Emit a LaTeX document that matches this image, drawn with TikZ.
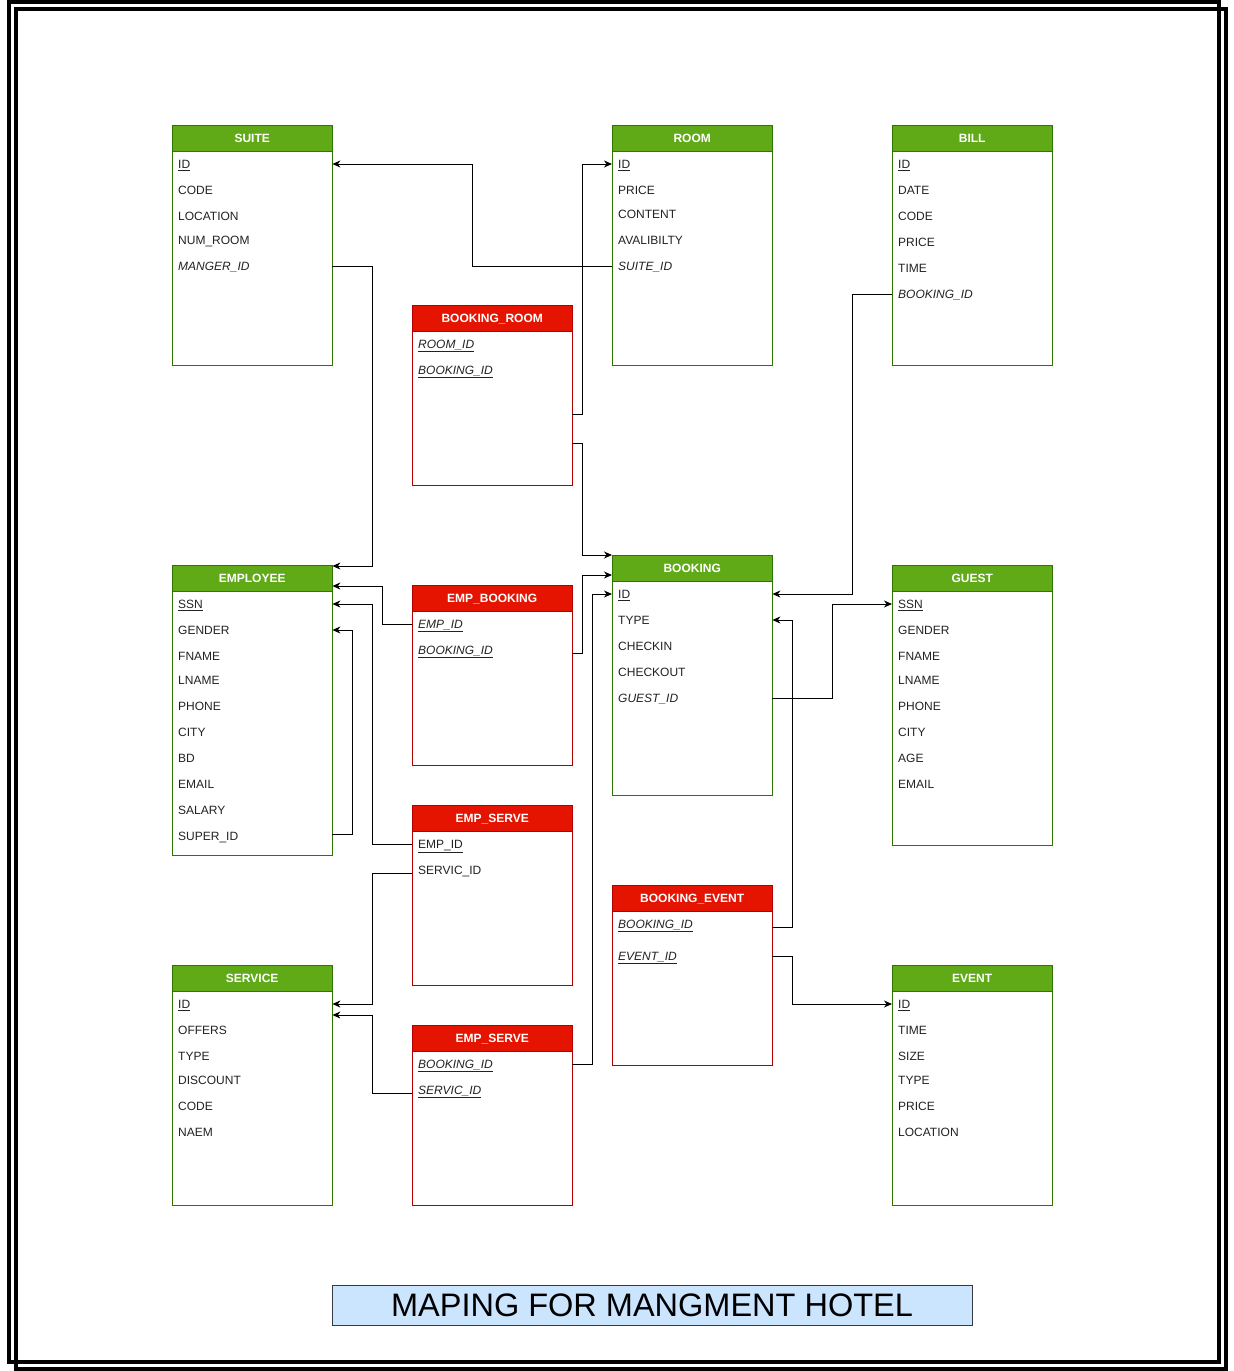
\documentclass[tikz,border=0pt]{standalone}
\usepackage{fontspec}
\setmainfont{Liberation Sans}
\usetikzlibrary{arrows.meta}

\definecolor{greenhead}{HTML}{60A917}
\definecolor{greenline}{HTML}{2D7600}
\definecolor{redhead}{HTML}{E51400}
\definecolor{redline}{HTML}{B20000}
\definecolor{titlefill}{HTML}{CCE5FF}
\definecolor{titleline}{HTML}{36393D}
\definecolor{rowtext}{HTML}{222222}

\begin{document}
\begin{tikzpicture}[x=1pt, y=-1pt,
  tbl/.style = {anchor=north west, minimum width=160pt, inner sep=0pt, fill=white},
  ent/.style = {tbl, draw=greenline},
  rel/.style = {tbl, draw=redline},
  enthead/.style = {ent, fill=greenhead, text=white, minimum height=26pt, text height=8.6pt, text depth=0pt, font=\fontsize{12}{14}\selectfont\bfseries},
  relhead/.style = {rel, fill=redhead, text=white, minimum height=26pt, text height=8.6pt, text depth=0pt, font=\fontsize{12}{14}\selectfont\bfseries},
  row/.style = {anchor=west, text width=148pt, inner xsep=6pt, inner ysep=2pt, text height=8.6pt, text depth=0pt, align=left, text=rowtext, font=\fontsize{12}{14}\selectfont},
  link/.style = {-{Stealth[length=8pt,width=7pt,inset=2.5pt]}, line width=1pt},
  frame/.style = {line width=3.5pt}]
\useasboundingbox (0,0) rectangle (1234,1371);
\draw[frame] (9,2) rectangle (1219,1362);
\draw[frame] (16,9) rectangle (1226,1369);

% SUITE
\node[ent, minimum height=240pt] (suite) at (172,125) {};
\node[enthead] (suite-head) at (172,125) {SUITE};
\node[row] (suite-id) at (172,164) {\underline{ID}};
\node[row] (suite-code) at (172,190) {CODE};
\node[row] (suite-loc) at (172,216) {LOCATION};
\node[row] (suite-num) at (172,240) {NUM\_ROOM};
\node[row] (suite-manger) at (172,266) {\textit{MANGER\_ID}};

% ROOM
\node[ent, minimum height=240pt] (room) at (612,125) {};
\node[enthead] (room-head) at (612,125) {ROOM};
\node[row] (room-id) at (612,164) {\underline{ID}};
\node[row] (room-price) at (612,190) {PRICE};
\node[row] (room-content) at (612,214) {CONTENT};
\node[row] (room-aval) at (612,240) {AVALIBILTY};
\node[row] (room-suite) at (612,266) {\textit{SUITE\_ID}};

% BILL
\node[ent, minimum height=240pt] (bill) at (892,125) {};
\node[enthead] (bill-head) at (892,125) {BILL};
\node[row] (bill-id) at (892,164) {\underline{ID}};
\node[row] (bill-date) at (892,190) {DATE};
\node[row] (bill-code) at (892,216) {CODE};
\node[row] (bill-price) at (892,242) {PRICE};
\node[row] (bill-time) at (892,268) {TIME};
\node[row] (bill-booking) at (892,294) {\textit{BOOKING\_ID}};

% BOOKING_ROOM
\node[rel, minimum height=180pt] (bkroom) at (412,305) {};
\node[relhead] (bkroom-head) at (412,305) {BOOKING\_ROOM};
\node[row] (bkroom-room) at (412,344) {\textit{\underline{ROOM\_ID}}};
\node[row] (bkroom-booking) at (412,370) {\textit{\underline{BOOKING\_ID}}};

% EMPLOYEE
\node[ent, minimum height=290pt] (emp) at (172,565) {};
\node[enthead] (emp-head) at (172,565) {EMPLOYEE};
\node[row] (emp-ssn) at (172,604) {\underline{SSN}};
\node[row] (emp-gender) at (172,630) {GENDER};
\node[row] (emp-fname) at (172,656) {FNAME};
\node[row] (emp-lname) at (172,680) {LNAME};
\node[row] (emp-phone) at (172,706) {PHONE};
\node[row] (emp-city) at (172,732) {CITY};
\node[row] (emp-bd) at (172,758) {BD};
\node[row] (emp-email) at (172,784) {EMAIL};
\node[row] (emp-salary) at (172,810) {SALARY};
\node[row] (emp-super) at (172,836) {SUPER\_ID};

% EMP_BOOKING
\node[rel, minimum height=180pt] (empbk) at (412,585) {};
\node[relhead] (empbk-head) at (412,585) {EMP\_BOOKING};
\node[row] (empbk-emp) at (412,624) {\textit{\underline{EMP\_ID}}};
\node[row] (empbk-booking) at (412,650) {\textit{\underline{BOOKING\_ID}}};

% BOOKING
\node[ent, minimum height=240pt] (booking) at (612,555) {};
\node[enthead] (booking-head) at (612,555) {BOOKING};
\node[row] (bk-id) at (612,594) {\underline{ID}};
\node[row] (bk-type) at (612,620) {TYPE};
\node[row] (bk-checkin) at (612,646) {CHECKIN};
\node[row] (bk-checkout) at (612,672) {CHECKOUT};
\node[row] (bk-guest) at (612,698) {\textit{GUEST\_ID}};

% GUEST
\node[ent, minimum height=280pt] (guest) at (892,565) {};
\node[enthead] (guest-head) at (892,565) {GUEST};
\node[row] (guest-ssn) at (892,604) {\underline{SSN}};
\node[row] (guest-gender) at (892,630) {GENDER};
\node[row] (guest-fname) at (892,656) {FNAME};
\node[row] (guest-lname) at (892,680) {LNAME};
\node[row] (guest-phone) at (892,706) {PHONE};
\node[row] (guest-city) at (892,732) {CITY};
\node[row] (guest-age) at (892,758) {AGE};
\node[row] (guest-email) at (892,784) {EMAIL};

% EMP_SERVE
\node[rel, minimum height=180pt] (empsrv) at (412,805) {};
\node[relhead] (empsrv-head) at (412,805) {EMP\_SERVE};
\node[row] (empsrv-emp) at (412,844) {\underline{EMP\_ID}};
\node[row] (empsrv-servic) at (412,870) {SERVIC\_ID};

% BOOKING_EVENT
\node[rel, minimum height=180pt] (bkev) at (612,885) {};
\node[relhead] (bkev-head) at (612,885) {BOOKING\_EVENT};
\node[row] (bkev-booking) at (612,924) {\textit{\underline{BOOKING\_ID}}};
\node[row] (bkev-event) at (612,956) {\textit{\underline{EVENT\_ID}}};

% SERVICE
\node[ent, minimum height=240pt] (service) at (172,965) {};
\node[enthead] (service-head) at (172,965) {SERVICE};
\node[row] (srv-id) at (172,1004) {\underline{ID}};
\node[row] (srv-offers) at (172,1030) {OFFERS};
\node[row] (srv-type) at (172,1056) {TYPE};
\node[row] (srv-discount) at (172,1080) {DISCOUNT};
\node[row] (srv-code) at (172,1106) {CODE};
\node[row] (srv-naem) at (172,1132) {NAEM};

% EMP_SERVE (second)
\node[rel, minimum height=180pt] (empsrv2) at (412,1025) {};
\node[relhead] (empsrv2-head) at (412,1025) {EMP\_SERVE};
\node[row] (empsrv2-booking) at (412,1064) {\textit{\underline{BOOKING\_ID}}};
\node[row] (empsrv2-servic) at (412,1090) {\textit{\underline{SERVIC\_ID}}};

% EVENT
\node[ent, minimum height=240pt] (event) at (892,965) {};
\node[enthead] (event-head) at (892,965) {EVENT};
\node[row] (event-id) at (892,1004) {\underline{ID}};
\node[row] (event-time) at (892,1030) {TIME};
\node[row] (event-size) at (892,1056) {SIZE};
\node[row] (event-type) at (892,1080) {TYPE};
\node[row] (event-price) at (892,1106) {PRICE};
\node[row] (event-loc) at (892,1132) {LOCATION};

% title
\node[draw=titleline, fill=titlefill, minimum width=640pt, minimum height=40pt, inner sep=0pt,
  text height=23.3pt, text depth=0pt, font=\fontsize{32.5}{36}\selectfont] (title) at (652,1305) {MAPING FOR MANGMENT HOTEL};

% links
\draw[link] (room-suite.west) -- ++(-140,0) |- (suite-id.east);
\draw[link] (suite-manger.east) -- ++(40,0) |- ([yshift=-1pt]emp.north east);
\draw[link] ([yshift=-109pt]bkroom.north east) -- ++(10,0) |- (room-id.west);
\draw[link] ([yshift=-138pt]bkroom.north east) -- ++(10,0) |- (booking.north west);
\draw[link] (empbk-emp.west) -- ++(-30,0) |- ([yshift=-21pt]emp.north east);
\draw[link] ([yshift=-3pt]empbk-booking.east) -- ++(10,0) |- ([yshift=-20pt]booking.north west);
\draw[link] (empsrv-emp.west) -- ++(-40,0) |- (emp-ssn.east);
\draw[link] ([yshift=2pt]emp-super.east) -- ++(20,0) |- (emp-gender.east);
\draw[link] ([yshift=-3pt]empsrv-servic.west) -- ++(-40,0) |- (srv-id.east);
\draw[link] ([yshift=-3pt]empsrv2-servic.west) -- ++(-40,0) |- ([yshift=-50pt]service.north east);
\draw[link] (empsrv2-booking.east) -- ++(20,0) |- (bk-id.west);
\draw[link] (bill-booking.west) -- ++(-40,0) |- (bk-id.east);
\draw[link] (bk-guest.east) -- ++(60,0) |- (guest-ssn.west);
\draw[link] ([yshift=-3pt]bkev-booking.east) -- ++(20,0) |- (bk-type.east);
\draw[link] (bkev-event.east) -- ++(20,0) |- (event-id.west);
\end{tikzpicture}
\end{document}
